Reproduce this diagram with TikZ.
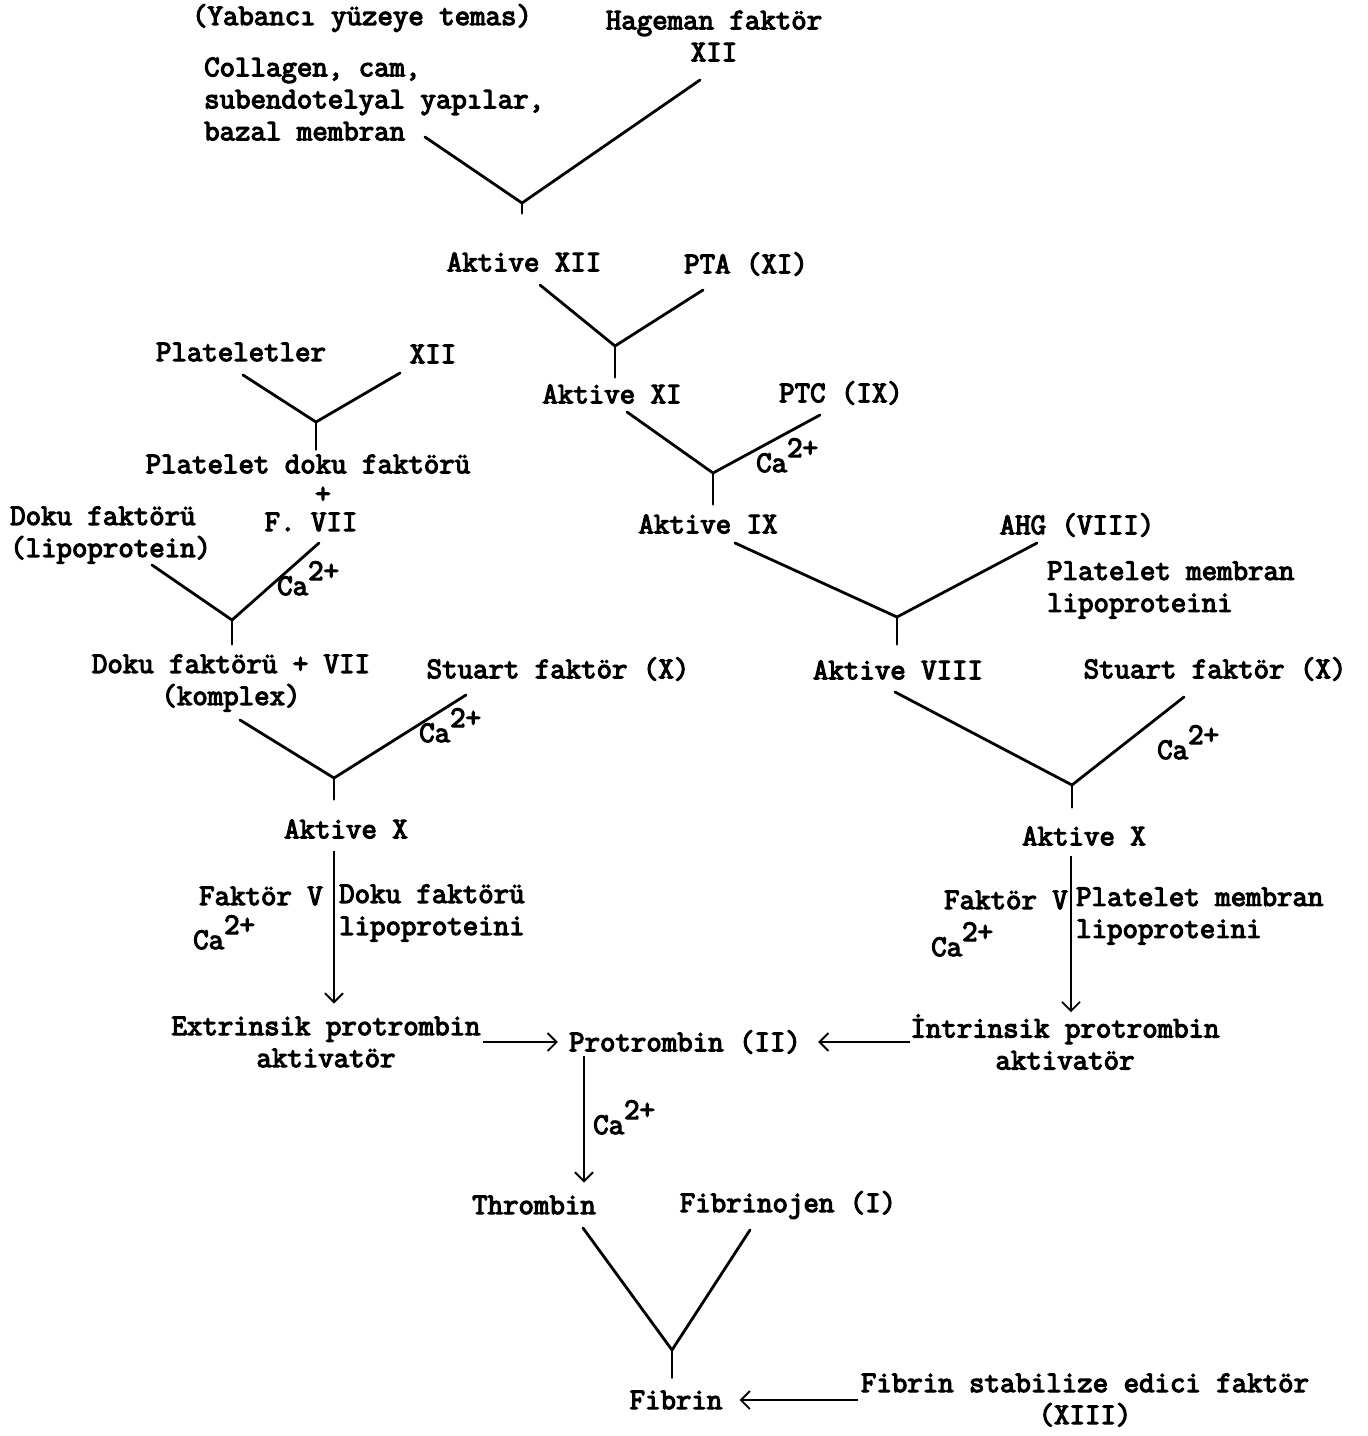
\documentclass[tikz,border=0pt]{standalone}
\usepackage{fontspec}
\usepackage{tikz}
\usetikzlibrary{arrows.meta,calc}
\newfontfamily\twfont{Latin Modern Mono}[FakeBold=4]
\newcommand{\typefont}{\fontsize{30}{32}\selectfont\twfont}
\newcommand{\caion}{Ca\raisebox{15pt}{2+}}

\begin{document}
\begin{tikzpicture}[
			x=1pt, y=-1pt,
			lbl/.style={inner sep=0pt, font=\typefont, align=center},
			ion/.style={inner sep=0pt, font=\typefont, anchor=base west},
			arm/.style={line width=2.8pt, line cap=round, line join=round},
			flow/.style={line width=1.9pt, -{Straight Barb[length=9pt, width=18pt]}}
			]
			\useasboundingbox (0,0) rectangle (1368,1436);

			\node[lbl] (yab) at (362,18) {(Yabancı yüzeye temas)};
			\node[lbl] (hag) at (714,36) {Hageman faktör\\XII};
			\node[lbl, align=left, anchor=west] (col) at (204,99) {Collagen, cam,\\subendotelyal yapılar,\\bazal membran};
			\node[lbl] (axii) at (524,262) {Aktive XII};
			\node[lbl] (pta) at (746,264) {PTA (XI)};
			\node[lbl] (axi) at (612,394) {Aktive XI};
			\node[lbl] (ptc) at (841,393) {PTC (IX)};
			\node[lbl] (aix) at (708,524) {Aktive IX};
			\node[lbl] (ahg) at (1077,525) {AHG (VIII)};
			\node[lbl, align=left, anchor=west] (pml) at (1047,590) {Platelet membran\\lipoproteini};
			\node[lbl] (aviii) at (898,670) {Aktive VIII};
			\node[lbl] (str) at (1215,669) {Stuart faktör (X)};
			\node[lbl] (axr) at (1084,836) {Aktive X};
			\node[lbl, anchor=east] (fvr) at (1068,900) {Faktör V};
			\node[lbl, align=left, anchor=west] (pmlr) at (1076,916) {Platelet membran\\lipoproteini};
			\node[lbl] (intr) at (1065,1042) {İntrinsik protrombin\\aktivatör};

			\node[lbl] (plt) at (241,352) {Plateletler};
			\node[lbl] (xiil) at (433,354) {XII};
			\node[lbl] (pdf) at (308,464) {Platelet doku faktörü};
			\node[lbl] (pls) at (323,495) {+};
			\node[lbl] (fvii) at (311,522) {F. VII};
			\node[lbl, align=left, anchor=west] (dfl) at (10,535) {Doku faktörü\\(lipoprotein)};
			\node[lbl] (dfk) at (231,683) {Doku faktörü + VII\\(komplex)};
			\node[lbl] (stl) at (558,669) {Stuart faktör (X)};
			\node[lbl] (axl) at (346,829) {Aktive X};
			\node[lbl, anchor=east] (fvl) at (323,896) {Faktör V};
			\node[lbl, align=left, anchor=west] (dfll) at (339,913) {Doku faktörü\\lipoproteini};
			\node[lbl] (extr) at (326,1042) {Extrinsik protrombin\\aktivatör};

			\node[lbl] (pro) at (685,1042) {Protrombin (II)};
			\node[lbl] (thr) at (534,1205) {Thrombin};
			\node[lbl] (fbg) at (788,1205) {Fibrinojen (I)};
			\node[lbl] (fib) at (676,1400) {Fibrin};
			\node[lbl] (fsf) at (1085,1400) {Fibrin stabilize edici faktör\\(XIII)};

			\node[ion] (ca1) at (756,472) {\caion};
			\node[ion] (ca2) at (1157,759) {\caion};
			\node[ion] (ca3) at (931,956) {\caion};
			\node[ion] (ca4) at (277,595) {\caion};
			\node[ion] (ca5) at (419,742) {\caion};
			\node[ion] (ca6) at (193,949) {\caion};
			\node[ion] (ca7) at (593,1134) {\caion};

			\coordinate (y1) at (522,203);
			\coordinate (y2) at (615,346);
			\coordinate (y3) at (713,473);
			\coordinate (y4) at (897,617);
			\coordinate (y5) at (1072,785);
			\coordinate (yl1) at (316,422);
			\coordinate (yl2) at (232,620);
			\coordinate (yl3) at (334,778);
			\coordinate (y6) at (672,1350);

			\draw[arm] ([shift={(221,38)}]col.west) -- (y1) -- ([shift={(-14,44)}]hag.center);
			\draw[arm, shorten >=39pt] (y1) -- (y1 |- axii.north);
			\draw[arm] ([shift={(16,23)}]axii.center) -- (y2) -- ([shift={(-43,26)}]pta.center);
			\draw[arm, shorten >=7pt] (y2) -- (y2 |- axi.north);
			\draw[arm] ([shift={(15,18)}]axi.center) -- (y3) -- ([shift={(-21,22)}]ptc.center);
			\draw[arm, shorten >=10pt] (y3) -- (y3 |- aix.north);
			\draw[arm] ([shift={(27,19)}]aix.center) -- (y4) -- ([shift={(-40,18)}]ahg.center);
			\draw[arm, shorten >=16pt] (y4) -- (y4 |- aviii.north);
			\draw[arm] ([shift={(-3,22)}]aviii.center) -- (y5) -- ([shift={(-31,28)}]str.center);
			\draw[arm, shorten >=19pt] (y5) -- (y5 |- axr.north);

			\draw[arm] ([shift={(2,23)}]plt.center) -- (yl1) -- ([shift={(-33,19)}]xiil.center);
			\draw[arm, shorten >=5pt] (yl1) -- (yl1 |- pdf.north);
			\draw[arm] ([shift={(142,30)}]dfl.west) -- (yl2) -- ([shift={(8,21)}]fvii.center);
			\draw[arm, shorten >=10pt] (yl2) -- (yl2 |- dfk.north);
			\draw[arm] ([shift={(9,37)}]dfk.center) -- (yl3) -- ([shift={(-92,26)}]stl.center);
			\draw[arm, shorten >=20pt] (yl3) -- (yl3 |- axl.north);

			\draw[flow, shorten <=12pt, shorten >=13pt] ([xshift=-12pt]axl.south) -- ([xshift=-12pt]axl.south |- extr.north);
			\draw[flow, shorten <=10pt, shorten >=2pt] ([xshift=-13pt]axr.south) -- ([xshift=-13pt]axr.south |- intr.north);
			\draw[flow, shorten <=2pt, shorten >=11pt] (extr.east) -- (pro.west);
			\draw[flow, shorten >=17pt] (intr.west) -- (pro.east);
			\draw[flow, shorten <=2pt, shorten >=13pt] ([xshift=-101pt]pro.south) -- ([xshift=-101pt]pro.south |- thr.north);

			\draw[arm] ([shift={(49,23)}]thr.center) -- (y6) -- ([shift={(-38,25)}]fbg.center);
			\draw[arm, shorten >=13pt] (y6) -- (y6 |- fib.north);
			\draw[flow, shorten <=3pt, shorten >=17pt] (fsf.west) -- (fib.east);
		\end{tikzpicture}
\end{document}
